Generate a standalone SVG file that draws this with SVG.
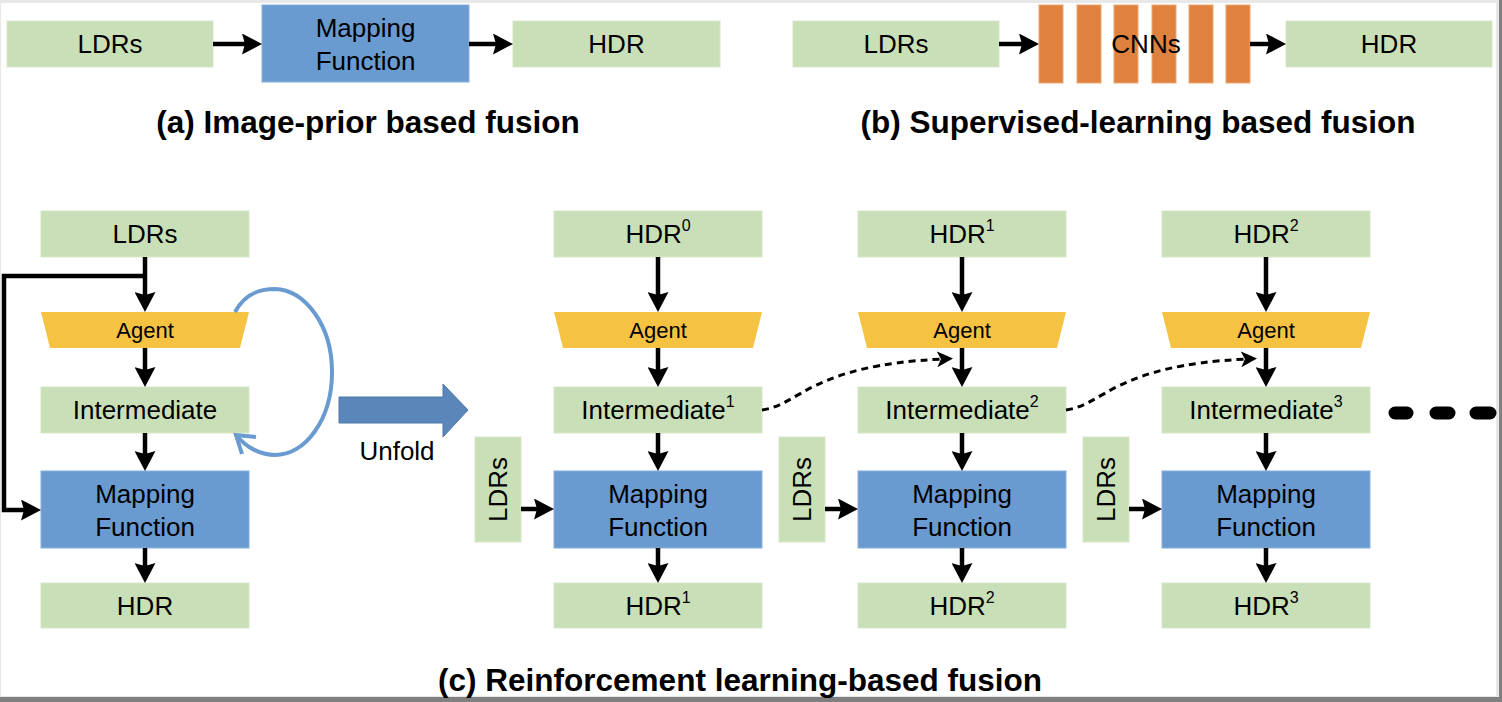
<svg xmlns="http://www.w3.org/2000/svg" width="1502" height="702" viewBox="0 0 1502 702">
<style>
text{font-family:"Liberation Sans",Arial,sans-serif;fill:#000}
.lbl{font-size:26px;text-anchor:middle}
.ag{font-size:22px;text-anchor:middle}
.cap{font-size:31.5px;font-weight:bold;text-anchor:middle}
.sup{font-size:16px}
.g{fill:#c9dfb8;stroke:#d6e8c9;stroke-width:1}
.b{fill:#6a9bd0;stroke:#86afdc;stroke-width:1}
.y{fill:#f5c242}
.o{fill:#e0823f;stroke:#eba676;stroke-width:1}
.ar{stroke:#000;stroke-width:4.5;fill:none;marker-end:url(#ah)}
.dt{stroke:#000;stroke-width:3;fill:none;stroke-dasharray:7 5;marker-end:url(#dart)}
</style>
<defs>
<marker id="ah" markerWidth="21" markerHeight="21" refX="12" refY="10.5" orient="auto" markerUnits="userSpaceOnUse"><path d="M0,0 L20,10.5 L0,21 L3,10.5 z" fill="#000"/></marker>
<marker id="dart" markerWidth="18" markerHeight="16" refX="6" refY="8" orient="auto" markerUnits="userSpaceOnUse"><path d="M0,0 L16,8 L0,16 L4,8 z" fill="#000"/></marker>
</defs>
<rect x="0" y="0" width="1502" height="702" fill="#808080"/>
<rect x="0" y="0" width="1499" height="697" fill="#e8e8e8"/>
<rect x="1" y="3" width="1495" height="693" fill="#ffffff"/>

<!-- (a) -->
<g id="a-ldrs"><rect class="g" x="7" y="21" width="206" height="46"/><text class="lbl" x="110" y="53">LDRs</text></g>
<g id="a-map"><rect class="b" x="262" y="5" width="207" height="77"/><text class="lbl" x="365.5" y="37">Mapping</text><text class="lbl" x="365.5" y="70">Function</text></g>
<g id="a-hdr"><rect class="g" x="513" y="21" width="207" height="46"/><text class="lbl" x="616.5" y="53">HDR</text></g>
<text class="cap" x="368" y="133">(a) Image-prior based fusion</text>

<!-- (b) -->
<g id="b-ldrs"><rect class="g" x="793" y="21" width="206" height="46"/><text class="lbl" x="896" y="53">LDRs</text></g>
<g id="b-cnn">
<rect class="o" x="1039" y="5" width="24" height="78"/>
<rect class="o" x="1077" y="5" width="24" height="78"/>
<rect class="o" x="1114" y="5" width="24" height="78"/>
<rect class="o" x="1152" y="5" width="24" height="78"/>
<rect class="o" x="1189" y="5" width="24" height="78"/>
<rect class="o" x="1226" y="5" width="24" height="78"/>
<text class="lbl" x="1146" y="53">CNNs</text>
</g>
<g id="b-hdr"><rect class="g" x="1286" y="21" width="206" height="46"/><text class="lbl" x="1389" y="53">HDR</text></g>
<text class="cap" x="1138" y="133">(b) Supervised-learning based fusion</text>

<!-- (c) loop -->
<g id="c-ldrs"><rect class="g" x="41" y="211" width="208" height="46"/><text class="lbl" x="145" y="243">LDRs</text></g>
<g id="c-agent"><polygon class="y" points="41,312 249,312 240,348 50,348"/><text class="ag" x="145" y="338">Agent</text></g>
<g id="c-int"><rect class="g" x="41" y="387" width="208" height="46"/><text class="lbl" x="145" y="419">Intermediate</text></g>
<g id="c-map"><rect class="b" x="41" y="471" width="208" height="77"/><text class="lbl" x="145" y="503">Mapping</text><text class="lbl" x="145" y="536">Function</text></g>
<g id="c-hdr"><rect class="g" x="41" y="583" width="208" height="45"/><text class="lbl" x="145" y="615">HDR</text></g>

<g id="unfold">
<polygon points="339,397 443,397 443,384 468,410 443,437 443,423 339,423" fill="#5b86b9" stroke="#4d78aa" stroke-width="1"/>
<text class="lbl" x="397" y="460">Unfold</text>
</g>

<!-- unrolled columns -->
<g id="u1-hdr0"><rect class="g" x="554" y="211" width="208" height="46"/><text class="lbl" x="658" y="243">HDR<tspan class="sup" dy="-12">0</tspan></text></g>
<g id="u1-agent"><polygon class="y" points="554,312 762,312 753,348 563,348"/><text class="ag" x="658" y="338">Agent</text></g>
<g id="u1-int"><rect class="g" x="554" y="387" width="208" height="46"/><text class="lbl" x="658" y="419">Intermediate<tspan class="sup" dy="-12">1</tspan></text></g>
<g id="u1-ldrs"><rect class="g" x="475" y="437" width="46" height="105"/><text class="lbl" transform="translate(498,489.5) rotate(-90)" x="0" y="9">LDRs</text></g>
<g id="u1-map"><rect class="b" x="554" y="471" width="208" height="77"/><text class="lbl" x="658" y="503">Mapping</text><text class="lbl" x="658" y="536">Function</text></g>
<g id="u1-hdr1"><rect class="g" x="554" y="583" width="208" height="45"/><text class="lbl" x="658" y="615">HDR<tspan class="sup" dy="-12">1</tspan></text></g>

<g id="u2-hdr1"><rect class="g" x="858" y="211" width="208" height="46"/><text class="lbl" x="962" y="243">HDR<tspan class="sup" dy="-12">1</tspan></text></g>
<g id="u2-agent"><polygon class="y" points="858,312 1066,312 1057,348 867,348"/><text class="ag" x="962" y="338">Agent</text></g>
<g id="u2-int"><rect class="g" x="858" y="387" width="208" height="46"/><text class="lbl" x="962" y="419">Intermediate<tspan class="sup" dy="-12">2</tspan></text></g>
<g id="u2-ldrs"><rect class="g" x="779" y="437" width="46" height="105"/><text class="lbl" transform="translate(802,489.5) rotate(-90)" x="0" y="9">LDRs</text></g>
<g id="u2-map"><rect class="b" x="858" y="471" width="208" height="77"/><text class="lbl" x="962" y="503">Mapping</text><text class="lbl" x="962" y="536">Function</text></g>
<g id="u2-hdr2"><rect class="g" x="858" y="583" width="208" height="45"/><text class="lbl" x="962" y="615">HDR<tspan class="sup" dy="-12">2</tspan></text></g>

<g id="u3-hdr2"><rect class="g" x="1162" y="211" width="208" height="46"/><text class="lbl" x="1266" y="243">HDR<tspan class="sup" dy="-12">2</tspan></text></g>
<g id="u3-agent"><polygon class="y" points="1162,312 1370,312 1361,348 1171,348"/><text class="ag" x="1266" y="338">Agent</text></g>
<g id="u3-int"><rect class="g" x="1162" y="387" width="208" height="46"/><text class="lbl" x="1266" y="419">Intermediate<tspan class="sup" dy="-12">3</tspan></text></g>
<g id="u3-ldrs"><rect class="g" x="1083" y="437" width="46" height="105"/><text class="lbl" transform="translate(1106,489.5) rotate(-90)" x="0" y="9">LDRs</text></g>
<g id="u3-map"><rect class="b" x="1162" y="471" width="208" height="77"/><text class="lbl" x="1266" y="503">Mapping</text><text class="lbl" x="1266" y="536">Function</text></g>
<g id="u3-hdr3"><rect class="g" x="1162" y="583" width="208" height="45"/><text class="lbl" x="1266" y="615">HDR<tspan class="sup" dy="-12">3</tspan></text></g>

<g id="ellipsis"><path d="M1395,413 H1407 M1436,413 H1449 M1476,413 H1490" stroke="#000" stroke-width="13" stroke-linecap="round"/></g>

<text class="cap" x="740" y="691">(c) Reinforcement learning-based fusion</text>

<g id="connectors">
<line class="ar" x1="213" y1="44" x2="254" y2="44"/>
<line class="ar" x1="469" y1="44" x2="505" y2="44"/>
<line class="ar" x1="999" y1="44" x2="1031" y2="44"/>
<line class="ar" x1="1250" y1="44" x2="1278" y2="44"/>

<line class="ar" x1="145" y1="257" x2="145" y2="304"/>
<line class="ar" x1="145" y1="348" x2="145" y2="379"/>
<line class="ar" x1="145" y1="433" x2="145" y2="463"/>
<line class="ar" x1="145" y1="548" x2="145" y2="575"/>
<path class="ar" d="M147,276 H4 V510 H33"/>
<path d="M235,312 C245,293 260,289 275,289 C305,290 332,325 332,372 C332,420 305,455 275,455 C260,455 246,447 237,436" stroke="#6a9bd0" stroke-width="4" fill="none"/>
<path d="M256,437 L236,435 L242,454" stroke="#6a9bd0" stroke-width="4" fill="none" stroke-linejoin="miter"/>

<line class="ar" x1="658" y1="257" x2="658" y2="304"/>
<line class="ar" x1="658" y1="348" x2="658" y2="379"/>
<line class="ar" x1="658" y1="433" x2="658" y2="463"/>
<line class="ar" x1="658" y1="548" x2="658" y2="575"/>
<line class="ar" x1="521" y1="509" x2="546" y2="509"/>

<line class="ar" x1="962" y1="257" x2="962" y2="304"/>
<line class="ar" x1="962" y1="348" x2="962" y2="379"/>
<line class="ar" x1="962" y1="433" x2="962" y2="463"/>
<line class="ar" x1="962" y1="548" x2="962" y2="575"/>
<line class="ar" x1="825" y1="509" x2="850" y2="509"/>

<line class="ar" x1="1266" y1="257" x2="1266" y2="304"/>
<line class="ar" x1="1266" y1="348" x2="1266" y2="379"/>
<line class="ar" x1="1266" y1="433" x2="1266" y2="463"/>
<line class="ar" x1="1266" y1="548" x2="1266" y2="575"/>
<line class="ar" x1="1129" y1="509" x2="1154" y2="509"/>

<path class="dt" d="M762,410 C800,405 810,365 943,359"/>
<path class="dt" d="M1066,410 C1104,405 1114,365 1247,359"/>
</g>
</svg>
